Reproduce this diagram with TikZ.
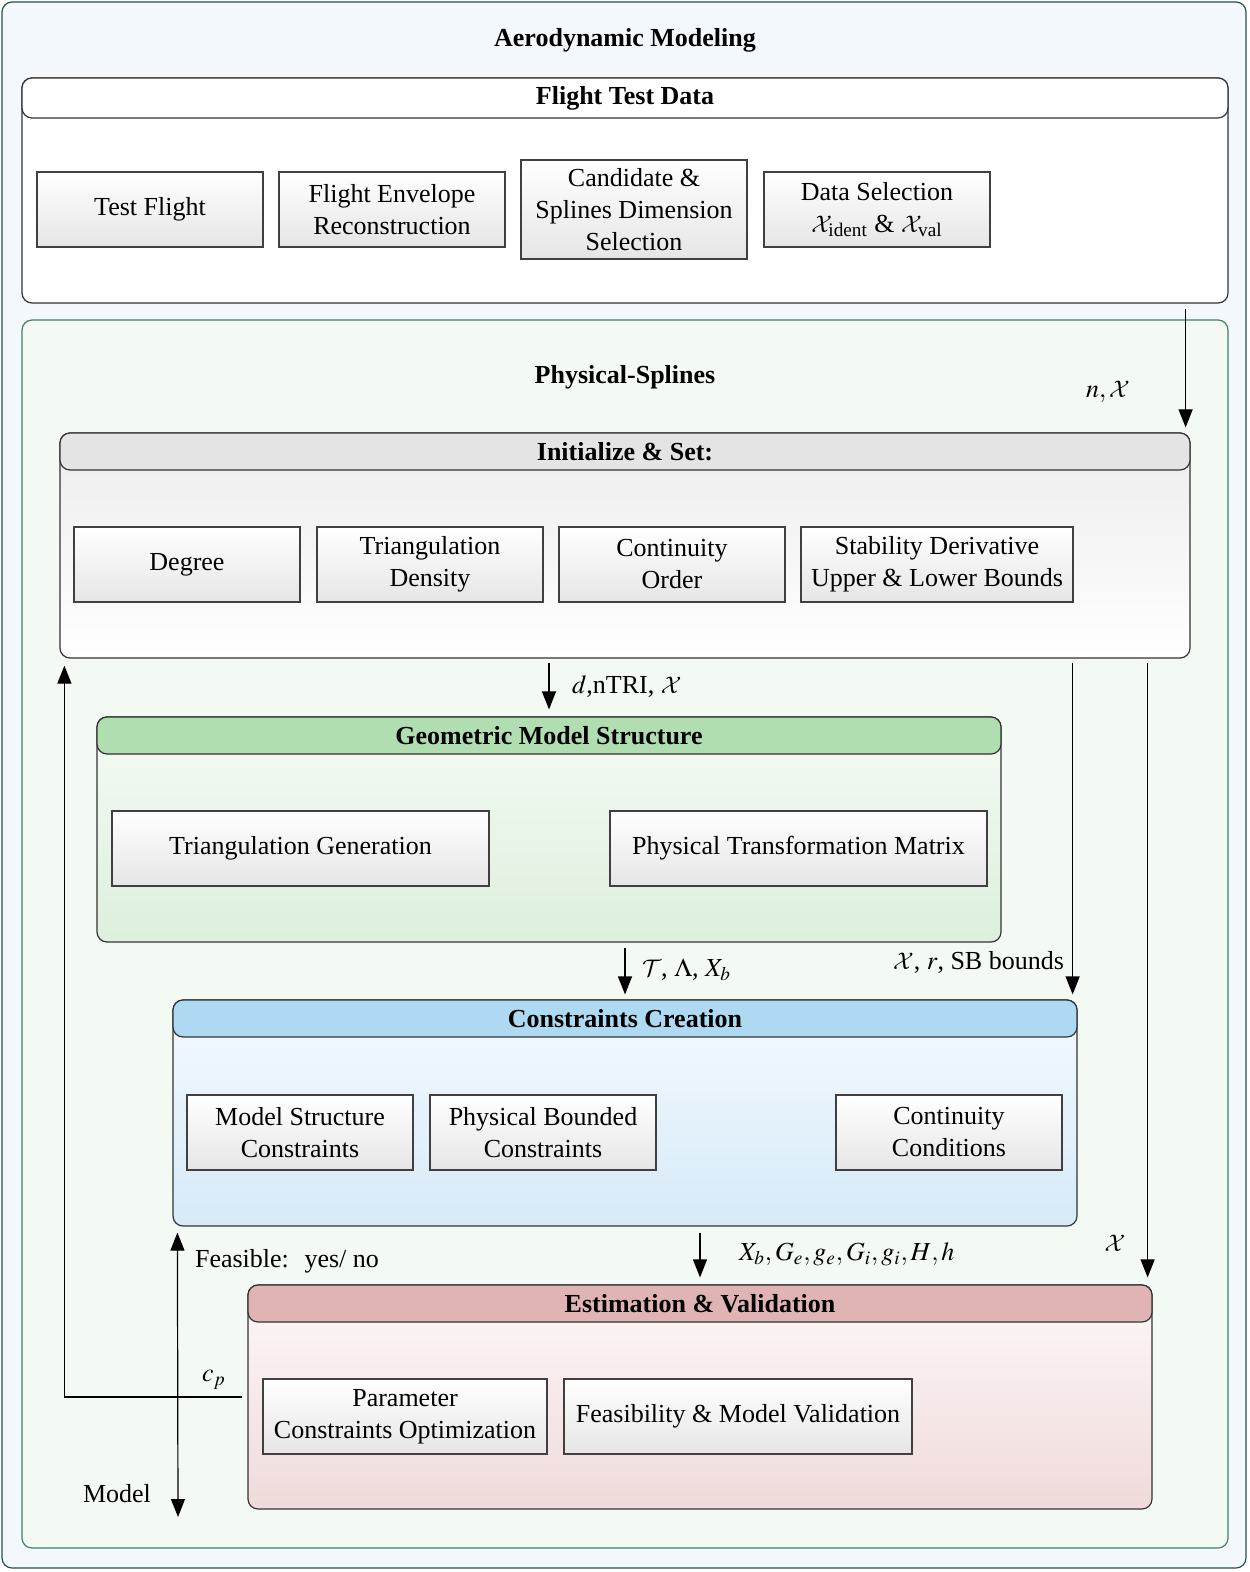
\documentclass[tikz,border=0pt]{standalone}
\usepackage{amsmath}
\usepackage{mathptmx}
\DeclareMathAlphabet{\mathcal}{OMS}{cmsy}{m}{n}
\usepackage[no-math]{fontspec}
\setmainfont{Liberation Serif}
\usetikzlibrary{arrows.meta, positioning, calc}
\definecolor{outerbg}{RGB}{243, 248, 252}
\definecolor{outerline}{RGB}{40, 80, 75}
\definecolor{splinebg}{RGB}{243, 250, 243}
\definecolor{splineline}{RGB}{70, 125, 100}
\definecolor{hdrgray}{RGB}{228, 228, 228}
\definecolor{hdrgreen}{RGB}{176, 222, 176}
\definecolor{hdrblue}{RGB}{174, 217, 242}
\definecolor{hdrpink}{RGB}{224, 180, 180}
\definecolor{inittop}{RGB}{236, 236, 236}
\definecolor{geotop}{RGB}{245, 251, 245}
\definecolor{geobot}{RGB}{221, 239, 221}
\definecolor{constop}{RGB}{245, 250, 254}
\definecolor{consbot}{RGB}{214, 234, 248}
\definecolor{esttop}{RGB}{253, 248, 248}
\definecolor{estbot}{RGB}{240, 218, 218}

\tikzset{
  txt/.style={font=\fontsize{13}{16}\selectfont},
  ttl/.style={font=\fontsize{13}{16}\selectfont\bfseries},
  group/.style={draw=black!80, line width=0.6pt, rounded corners=5pt},
  hdr/.style={group, ttl, minimum height=18.5pt, anchor=north},
  item/.style={txt, draw=black!75, line width=0.6pt, top color=white, bottom color=gray!20,
    align=center, minimum width=113pt, minimum height=37.5pt, inner sep=2pt},
  arr/.style={-{Triangle[length=9pt,width=7pt]}, line width=0.6pt},
  arrtwo/.style={{Triangle[length=9pt,width=7pt]}-{Triangle[length=9pt,width=7pt]}, line width=0.6pt}
}

\begin{document}
\begin{tikzpicture}[x=0.5pt, y=-0.5pt, every node/.style={txt}]
  \useasboundingbox (0,0) rectangle (1249,1572);

  % ===== outer frame =====
  \node[group, draw=outerline, fill=outerbg, minimum width=622pt, minimum height=783pt] (aero) at (624,785) {};
  \node[ttl] (aerot) at (625,40) {Aerodynamic Modeling};

  % ===== Flight Test Data =====
  \node[group, fill=white, minimum width=603pt, minimum height=112.5pt] (ftd) at (625,190.5) {};
  \node[hdr, fill=white, minimum width=603pt, minimum height=20pt] (ftdh) at (ftd.north) {Flight Test Data};
  \node[item] (tf) at (150,209.5) {Test Flight};
  \node[item] (fer) at (392,209.5) {Flight Envelope\\Reconstruction};
  \node[item, minimum height=49.5pt] (csd) at (634,209.5) {Candidate \&\\Splines Dimension\\Selection};
  \node[item] (dsel) at (877,209.5) {Data Selection\\$\mathcal{X}_{\text{ident}}$ \& $\mathcal{X}_{\text{val}}$};

  % ===== Physical-Splines =====
  \node[group, draw=splineline, fill=splinebg, minimum width=603pt, minimum height=614pt] (ps) at (625,934) {};
  \node[ttl] (pst) at (625,377) {Physical-Splines};

  % Initialize & Set
  \node[group, top color=inittop, bottom color=white, minimum width=565pt, minimum height=112.5pt] (init) at (625,545.5) {};
  \node[hdr, fill=hdrgray, minimum width=565pt] (inith) at (init.north) {Initialize \& Set:};
  \node[item] (deg) at (187,564.5) {Degree};
  \node[item] (tden) at (430,564.5) {Triangulation\\Density};
  \node[item] (cord) at (672,564.5) {Continuity\\Order};
  \node[item, minimum width=136pt] (sdb) at (937,564.5) {Stability Derivative\\Upper \& Lower Bounds};

  % Geometric Model Structure
  \node[group, top color=geotop, bottom color=geobot, minimum width=452pt, minimum height=112.5pt] (geo) at (549,829.5) {};
  \node[hdr, fill=hdrgreen, minimum width=452pt] (geoh) at (geo.north) {Geometric Model Structure};
  \node[item, minimum width=188.5pt] (tgen) at (300.5,848.5) {Triangulation Generation};
  \node[item, minimum width=188.5pt] (ptm) at (798.5,848.5) {Physical Transformation Matrix};

  % Constraints Creation
  \node[group, top color=constop, bottom color=consbot, minimum width=452pt, minimum height=113pt] (cons) at (625,1113) {};
  \node[hdr, fill=hdrblue, minimum width=452pt] (consh) at (cons.north) {Constraints Creation};
  \node[item] (msc) at (300,1132.5) {Model Structure\\Constraints};
  \node[item] (pbc) at (543,1132.5) {Physical Bounded\\Constraints};
  \node[item] (ccon) at (949,1132.5) {Continuity\\Conditions};

  % Estimation & Validation
  \node[group, top color=esttop, bottom color=estbot, minimum width=452pt, minimum height=112pt] (est) at (700,1397) {};
  \node[hdr, fill=hdrpink, minimum width=452pt] (esth) at (est.north) {Estimation \& Validation};
  \node[item, minimum width=142pt] (pco) at (405,1416.5) {Parameter\\Constraints Optimization};
  \node[item, minimum width=174pt] (fmv) at (738,1416.5) {Feasibility \& Model Validation};

  % ===== connectors =====
  \coordinate (nin) at ([xshift=-2.5pt]init.north east);
  \coordinate (sbin) at ([xshift=-2.5pt]cons.north east);
  \coordinate (xin) at ([xshift=-2.5pt]est.north east);
  \coordinate (modelout) at (178,1517);

  \draw[arr] ([yshift=-2.5pt]ftd.south -| nin) -- ([yshift=2.5pt]nin);
  \node (lnx) at (1108,392) {$n, \mathcal{X}$};

  \draw[arr] ([yshift=-2pt]init.south -| geo.north) -- ([yshift=3.5pt]geo.north);
  \node[anchor=west] (ldn) at (565,687) {$d$,nTRI, $\mathcal{X}$};

  \draw[arr] ([yshift=-2.5pt]geo.south -| cons.north) -- ([yshift=2.5pt]cons.north);
  \node[anchor=west] (ltl) at (635,970) {$\mathcal{T}$, $\Lambda$, $X_b$};

  \draw[arr] ([yshift=-2pt]init.south -| sbin) -- ([yshift=2.5pt]sbin);
  \node[anchor=east] (lsb) at (1071,962) {$\mathcal{X}$, $r$, SB bounds};

  \draw[arr] ([yshift=-3pt]cons.south -| est.north) -- ([yshift=3.5pt]est.north);
  \node[anchor=west] (lxb) at (732,1254) {$X_b, G_e, g_e, G_i, g_i, H, h$};

  \draw[arr] ([yshift=-2pt]init.south -| xin) -- ([yshift=3.5pt]xin);
  \node (lx) at (1115,1243) {$\mathcal{X}$};

  % feedback and output
  \draw[arr] ([xshift=-2.5pt]est.west) -| ([xshift=2.5pt,yshift=-3.5pt]init.south west);
  \node (lcp) at (214,1380) {$c_p$};
  \draw[arrtwo] ([xshift=2.5pt,yshift=-3pt]cons.south west) -- (modelout);
  \node[anchor=west] (lfeas) at (188,1261) {Feasible:\hspace{0.6em}yes/ no};
  \node (lmodel) at (117,1494) {Model};
\end{tikzpicture}
\end{document}
